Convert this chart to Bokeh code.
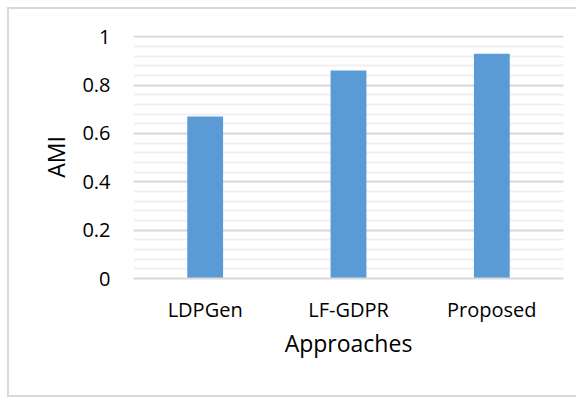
from bokeh.plotting import figure
from bokeh.models import FactorRange, Range1d, SingleIntervalTicker, InlineStyleSheet
from bokeh.embed import file_html
from bokeh.resources import INLINE

# AMI score per approach
approaches = ["LDPGen", "LF-GDPR", "Proposed"]
ami = [0.67, 0.86, 0.93]

FONT = "Open Sans"

# thin grey frame around the chart area; its right side runs off the page
frame_css = InlineStyleSheet(css="""
:host::after {
  content: "";
  position: absolute;
  left: 7px; top: 7px; right: 0px; bottom: 0px;
  border: 2px solid #d9d9d9;
  border-right: none;
  pointer-events: none;
}
""")

p = figure(
    width=576, height=397,
    x_range=FactorRange(*approaches, range_padding=0),
    y_range=Range1d(0, 1.005),
    output_backend="svg", toolbar_location=None,
    min_border_left=133, min_border_right=13,
    min_border_top=35, min_border_bottom=119,
    stylesheets=[frame_css],
)
p.outline_line_color = None
p.background_fill_color = "white"
p.border_fill_color = "white"

p.vbar(x=approaches, top=ami, width=0.25, color="#5b9bd5", line_color=None)

# gridlines: major every 0.2, four minor lines in between
p.yaxis.ticker = SingleIntervalTicker(interval=0.2, num_minor_ticks=5)
p.ygrid.grid_line_color = "#d9d9d9"
p.ygrid.grid_line_width = 2
p.ygrid.minor_grid_line_color = "#efefef"
p.ygrid.minor_grid_line_width = 2
p.xgrid.grid_line_color = None

# y axis
p.yaxis.axis_line_color = None
p.yaxis.major_tick_line_color = None
p.yaxis.minor_tick_line_color = None
p.yaxis.major_tick_out = 0
p.yaxis.minor_tick_out = 0
p.yaxis.major_label_standoff = 23
p.yaxis.major_label_text_font = FONT
p.yaxis.major_label_text_font_size = "20px"
p.yaxis.major_label_text_color = "#000000"
p.yaxis.axis_label = "AMI"
p.yaxis.axis_label_text_font = FONT
p.yaxis.axis_label_text_font_size = "23px"
p.yaxis.axis_label_text_font_style = "normal"
p.yaxis.axis_label_text_color = "#000000"
p.yaxis.axis_label_standoff = 7
p.yaxis.formatter.use_scientific = False

# x axis
p.xaxis.axis_line_color = "#d9d9d9"
p.xaxis.axis_line_width = 2.2
p.xaxis.major_tick_line_color = None
p.xaxis.major_tick_out = 0
p.xaxis.major_label_standoff = 17
p.xaxis.major_label_text_font = FONT
p.xaxis.major_label_text_font_size = "20px"
p.xaxis.major_label_text_color = "#000000"
p.xaxis.axis_label = "Approaches"
p.xaxis.axis_label_text_font = FONT
p.xaxis.axis_label_text_font_size = "23px"
p.xaxis.axis_label_text_font_style = "normal"
p.xaxis.axis_label_text_color = "#000000"
p.xaxis.axis_label_standoff = 1

open("out.html", "w").write(file_html(p, INLINE))
